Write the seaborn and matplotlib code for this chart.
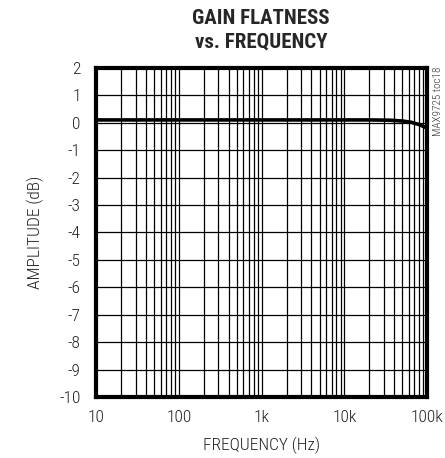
import numpy as np
import pandas as pd
import seaborn as sns
import matplotlib.pyplot as plt
from matplotlib.ticker import LogLocator, NullFormatter, FixedLocator

# gain flatness readings
freq_hz = [10, 20, 50, 100, 200, 500, 1000, 2000, 5000, 10000, 20000, 35000, 50000, 63000, 80000, 100000]
gain_db = [0.1, 0.1, 0.1, 0.1, 0.1, 0.1, 0.1, 0.1, 0.1, 0.1, 0.1, 0.09, 0.06, 0.02, -0.07, -0.2]

x_ticks = [10, 100, 1000, 10000, 100000]
x_labels = ['10', '100', '1k', '10k', '100k']
y_ticks = list(range(-10, 3))

sns.set_style('white')
plt.rcParams['font.family'] = ['Roboto Condensed', 'DejaVu Sans']

df = pd.DataFrame({'freq': freq_hz, 'gain': gain_db})

fig = plt.figure(figsize=(4.45, 4.58), dpi=100)
ax = fig.add_axes([0.216, 0.133, 0.744, 0.719])
ax.set_xscale('log')
sns.lineplot(data=df, x='freq', y='gain', color='black', linewidth=2.6, ax=ax)

ax.set_xlim(10, 100000)
ax.set_ylim(-10, 2)
ax.xaxis.set_major_locator(FixedLocator(x_ticks))
ax.set_xticklabels(x_labels, fontweight='light')
ax.xaxis.set_minor_locator(LogLocator(base=10, subs=np.arange(2, 10)))
ax.xaxis.set_minor_formatter(NullFormatter())
ax.set_yticks(y_ticks)
ax.set_yticklabels([str(v) for v in y_ticks], fontweight='light')
ax.grid(True, which='both', axis='x', color='black', linewidth=0.9)
ax.grid(True, which='major', axis='y', color='black', linewidth=0.9)
ax.tick_params(which='both', length=0, labelsize=12.5, colors='#222222')
ax.tick_params(axis='y', pad=11)
ax.tick_params(axis='x', pad=9)
for s in ax.spines.values():
    s.set_linewidth(3)
    s.set_color('black')

ax.set_xlabel('FREQUENCY (Hz)', fontsize=12.5, labelpad=9, color='#222222', fontweight='light')
ax.set_ylabel('AMPLITUDE (dB)', fontsize=12.5, labelpad=11, color='#222222', fontweight='light')
fig.text(0.587, 0.933, 'GAIN FLATNESS\nvs. FREQUENCY', ha='center', va='center',
         fontsize=15, fontweight='heavy', linespacing=1.3)
fig.text(0.985, 0.855, 'MAX9725 toc18', rotation=90, ha='center', va='top', fontsize=8,
         color='#333333', fontweight='light')

fig.savefig('out.png', dpi=100)
